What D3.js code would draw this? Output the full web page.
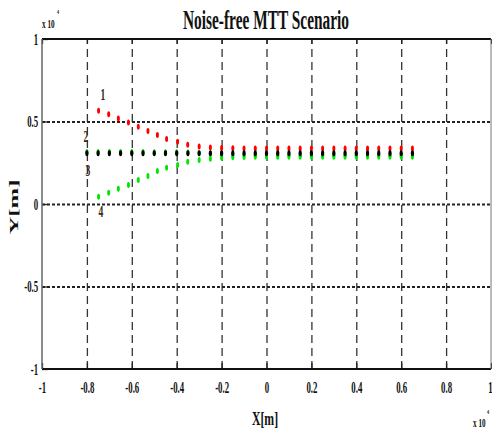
<html>
<head>
<title>Noise-free MTT Scenario</title>
<script src="https://d3js.org/d3.v7.min.js"></script>
<style>
  body { margin: 0; background: white; }
  text { font-family: "Liberation Serif", "DejaVu Serif", serif; font-weight: bold; }
</style>
</head>
<body>
<svg width="492" height="428"></svg>
<script>
// x values (x10^4 m)
var xGrid = [-0.8, -0.75, -0.7, -0.65, -0.6, -0.55, -0.5, -0.45, -0.4, -0.35, -0.3, -0.25, -0.2, -0.15, -0.1,
             -0.05, 0, 0.05, 0.1, 0.15, 0.2, 0.25, 0.3, 0.35, 0.4, 0.45, 0.5, 0.55, 0.6, 0.65];
var xDiag = [-0.748, -0.703, -0.66, -0.615, -0.571, -0.528, -0.486, -0.445, -0.396, -0.351, -0.3, -0.25, -0.2, -0.15, -0.1,
             -0.05, 0, 0.05, 0.1, 0.15, 0.2, 0.25, 0.3, 0.35, 0.4, 0.45, 0.5, 0.55, 0.6, 0.65];

// y values (x10^4 m)
var track1 = [0.565, 0.544, 0.518, 0.494, 0.468, 0.442, 0.418, 0.394, 0.378, 0.359, 0.348, 0.343, 0.340, 0.338, 0.337,
              0.336, 0.336, 0.336, 0.336, 0.336, 0.336, 0.336, 0.336, 0.336, 0.336, 0.336, 0.336, 0.336, 0.336, 0.336];
var track2 = [0.308, 0.308, 0.308, 0.308, 0.308, 0.308, 0.308, 0.308, 0.308, 0.308, 0.308, 0.308, 0.308, 0.308, 0.308,
              0.308, 0.308, 0.308, 0.308, 0.308, 0.308, 0.308, 0.308, 0.308, 0.308, 0.308, 0.308, 0.308, 0.308, 0.308];
var track3 = [0.315, 0.315, 0.315, 0.315, 0.315, 0.315, 0.314, 0.314, 0.313, 0.312, 0.308, 0.304, 0.300, 0.298, 0.297,
              0.296, 0.296, 0.296, 0.296, 0.296, 0.296, 0.296, 0.296, 0.296, 0.296, 0.296, 0.296, 0.296, 0.296, 0.296];
var track4 = [0.044, 0.068, 0.093, 0.115, 0.145, 0.170, 0.200, 0.220, 0.236, 0.256, 0.267, 0.275, 0.280, 0.283, 0.285,
              0.286, 0.286, 0.286, 0.286, 0.286, 0.286, 0.286, 0.286, 0.286, 0.286, 0.286, 0.286, 0.286, 0.286, 0.286];

var xTicks = [-1, -0.8, -0.6, -0.4, -0.2, 0, 0.2, 0.4, 0.6, 0.8, 1];
var xTickLabels = ["-1", "-0.8", "-0.6", "-0.4", "-0.2", "0", "0.2", "0.4", "0.6", "0.8", "1"];
var yTicks = [-1, -0.5, 0, 0.5, 1];
var yTickLabels = ["-1", "-0.5", "0", "0.5", "1"];
var trackLabels = ["1", "2", "3", "4"];

var svg = d3.select("svg");
var x = d3.scaleLinear().domain([-1, 1]).range([42, 491]);
var y = d3.scaleLinear().domain([-1, 1]).range([369, 39]);

svg.append("rect").attr("width", 492).attr("height", 428).attr("fill", "white");

// grid
var vg = svg.append("g").attr("transform", "translate(0,369)")
  .call(d3.axisBottom(x).tickValues(xTicks.slice(1, -1)).tickSize(-330).tickFormat(""));
vg.select(".domain").remove();
vg.selectAll("line").attr("stroke", "#333").attr("stroke-width", 1.3).attr("stroke-dasharray", "8,5");

var hg = svg.append("g").attr("transform", "translate(42,0)")
  .call(d3.axisLeft(y).tickValues(yTicks.slice(1, -1)).tickSize(-449).tickFormat(""));
hg.select(".domain").remove();
hg.selectAll("line").attr("stroke", "#222").attr("stroke-width", 2).attr("stroke-dasharray", "3,2");

// short solid ticks
function ticks(g) { g.select(".domain").remove(); g.selectAll("line").attr("stroke", "#222").attr("stroke-width", 1.3); }
svg.append("g").attr("transform", "translate(0,369)").call(d3.axisBottom(x).tickValues(xTicks).tickSize(-6).tickFormat("")).call(ticks);
svg.append("g").attr("transform", "translate(0,39)").call(d3.axisTop(x).tickValues(xTicks).tickSize(-5).tickFormat("")).call(ticks);
svg.append("g").attr("transform", "translate(42,0)").call(d3.axisLeft(y).tickValues(yTicks).tickSize(-6).tickFormat("")).call(ticks);

// frame
svg.append("line").attr("x1", 42).attr("x2", 491).attr("y1", 39).attr("y2", 39).attr("stroke", "#111").attr("stroke-width", 2);
svg.append("line").attr("x1", 42).attr("x2", 491).attr("y1", 369).attr("y2", 369).attr("stroke", "#111").attr("stroke-width", 2);
svg.append("line").attr("x1", 42).attr("x2", 42).attr("y1", 39).attr("y2", 369).attr("stroke", "#666").attr("stroke-width", 1.5);
svg.append("line").attr("x1", 491).attr("x2", 491).attr("y1", 39).attr("y2", 369).attr("stroke", "#777").attr("stroke-width", 1);

// tick labels
var xl = svg.append("g").attr("transform", "translate(0,369)")
  .call(d3.axisBottom(x).tickValues(xTicks).tickSize(0).tickPadding(13).tickFormat(function (d, i) { return xTickLabels[i]; }));
xl.select(".domain").remove();
xl.selectAll("text").attr("font-size", 16).attr("fill", "#111").attr("transform", "scale(0.55,1)")
  .style("font-family", "Liberation Serif").style("font-weight", "bold");
xl.selectAll("text").filter(function (d) { return d === 1; }).attr("text-anchor", "end").attr("x", 2);

var yl = svg.append("g").attr("transform", "translate(42,0)")
  .call(d3.axisLeft(y).tickValues(yTicks).tickSize(0).tickPadding(7).tickFormat(function (d, i) { return yTickLabels[i]; }));
yl.select(".domain").remove();
yl.selectAll("text").attr("font-size", 16).attr("fill", "#111").attr("transform", "scale(0.55,1)")
  .style("font-family", "Liberation Serif").style("font-weight", "bold");

// condensed text helper
function label(tx, ty, str, size, sx, anchor, rot) {
  return svg.append("text")
    .attr("transform", "translate(" + tx + "," + ty + ")" + (rot ? " rotate(" + rot + ")" : "") + " scale(" + sx + ",1)")
    .attr("font-size", size).attr("text-anchor", anchor || "start").attr("fill", "#111").text(str);
}

label(266, 29, "Noise-free MTT Scenario", 28, 0.55, "middle");
label(265, 425, "X[m]", 19, 0.62, "middle");
label(18, 207, "Y[m]", 13, 1.9, "middle", -90);
label(42, 28, "x 10", 12, 0.6, "start");
label(57, 14, "4", 7, 0.6, "start");
label(473, 427, "x 10", 12, 0.6, "start");
label(487, 414, "4", 7, 0.6, "start");

// track numbers
var labelPos = [[103, 100], [86, 142], [88, 176], [101, 217]];
trackLabels.forEach(function (t, i) {
  label(labelPos[i][0], labelPos[i][1], t, 16, 0.6, "middle").attr("fill", "#3a2c12");
});

// tracks
function track(xs, ys, color, rx, ry) {
  svg.append("g").selectAll("ellipse")
    .data(ys.map(function (v, i) { return [xs[i], v]; }))
    .enter().append("ellipse")
    .attr("cx", function (d) { return x(d[0]); })
    .attr("cy", function (d) { return y(d[1]); })
    .attr("rx", rx).attr("ry", ry)
    .attr("fill", color);
}
track(xGrid, track3, "#00e600", 1.5, 3);
track(xDiag, track4, "#00e600", 1.5, 3);
track(xDiag, track1, "#ff0000", 1.5, 3);
track(xGrid, track2, "#000000", 1.6, 3);
</script>
</body>
</html>
